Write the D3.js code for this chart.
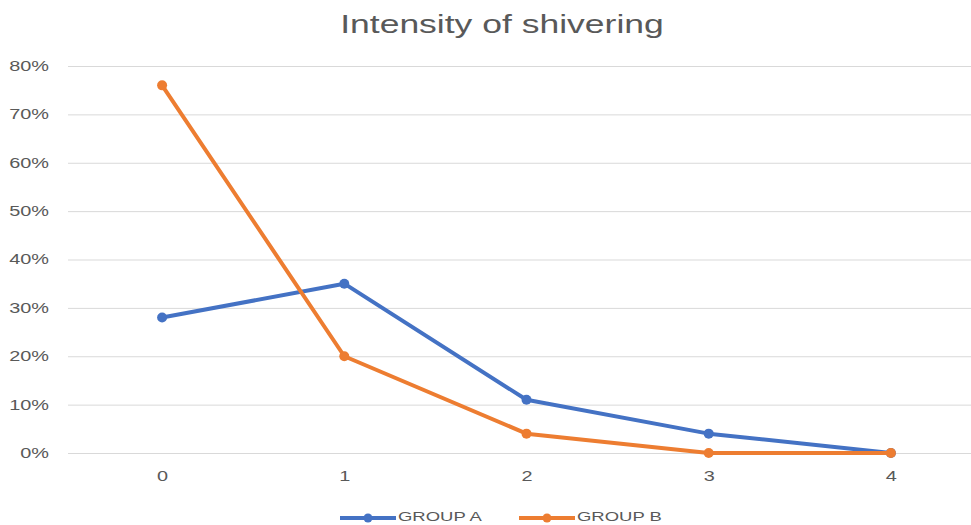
<!DOCTYPE html>
<html><head><meta charset="utf-8">
<script src="https://cdn.jsdelivr.net/npm/d3@7"></script>
<style>body{margin:0;background:#fff}svg{display:block}text{font-family:"Liberation Sans",Arial,sans-serif;fill:#595959}</style>
</head><body>
<script>
const categories = ["0","1","2","3","4"];
const groupA = [0.28, 0.35, 0.11, 0.04, 0.00];
const groupB = [0.76, 0.20, 0.04, 0.00, 0.00];
const seriesNames = ["GROUP A","GROUP B"];
const yTicks = [0,0.1,0.2,0.3,0.4,0.5,0.6,0.7,0.8];
const colors = ["#4472C4","#ED7D31"];

const W=971,H=525, STRETCH=1.42;
const svg=d3.select("body").append("svg").attr("width",W).attr("height",H);
const x=d3.scalePoint().domain(categories).range([71,982]).padding(0.5);
const y=d3.scaleLinear().domain([0,0.8]).range([453,66]);

function stretch(sel){
  sel.each(function(){
    const L=this.getComputedTextLength();
    d3.select(this).attr("textLength",L*STRETCH).attr("lengthAdjust","spacingAndGlyphs");
  });
}

svg.append("text").attr("x",502).attr("y",33).attr("text-anchor","middle")
  .style("font-size","25px").text("Intensity of shivering").call(stretch);

const yAxis=d3.axisLeft(y).tickValues(yTicks).tickFormat(d3.format(".0%")).tickSize(-(971-68)).tickPadding(19);
const gy=svg.append("g").attr("transform","translate(68,0)").call(yAxis);
gy.select(".domain").remove();
gy.selectAll(".tick line").attr("stroke","#d9d9d9").attr("stroke-width",1);
gy.selectAll(".tick text").style("font-size","14px").attr("fill","#595959").attr("font-family",null).call(stretch);

const xAxis=d3.axisBottom(x).tickSize(0).tickPadding(18);
const gx=svg.append("g").attr("transform","translate(0,453)").call(xAxis);
gx.select(".domain").remove();
gx.selectAll(".tick text").style("font-size","14px").attr("fill","#595959").attr("font-family",null).call(stretch);

const series=[groupA,groupB];
const line=d3.line().x((d,i)=>x(categories[i])).y(d=>y(d));
series.forEach((s,k)=>{
  svg.append("path").datum(s).attr("d",line).attr("fill","none")
    .attr("stroke",colors[k]).attr("stroke-width",4).attr("stroke-linejoin","round");
  svg.selectAll(null).data(s).enter().append("circle")
    .attr("cx",(d,i)=>x(categories[i])).attr("cy",d=>y(d)).attr("r",5).attr("fill",colors[k]);
});

const lg=[{x:340,name:seriesNames[0],c:colors[0]},{x:519,name:seriesNames[1],c:colors[1]}];
lg.forEach(l=>{
  const g=svg.append("g");
  g.append("line").attr("x1",l.x).attr("x2",l.x+56).attr("y1",518).attr("y2",518).attr("stroke",l.c).attr("stroke-width",4);
  g.append("circle").attr("cx",l.x+28).attr("cy",518).attr("r",4.5).attr("fill",l.c);
  g.append("text").attr("x",l.x+58).attr("y",521).style("font-size","13px").text(l.name).call(stretch);
});
</script>
</body></html>
